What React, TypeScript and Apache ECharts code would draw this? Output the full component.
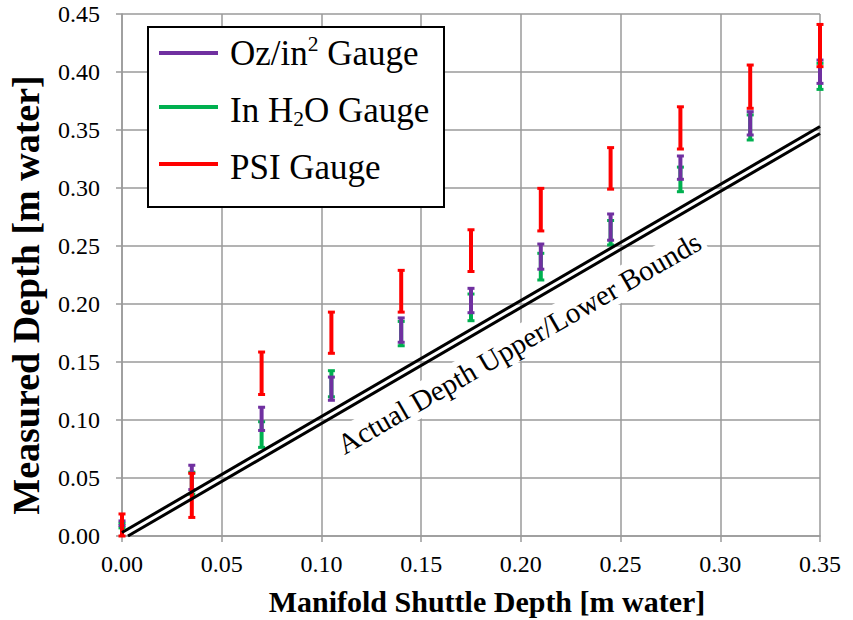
import React, { useEffect, useRef } from 'react';
import * as echarts from 'echarts';

// Manifold shuttle depth (x) for every measurement
const xValues = [0, 0.035, 0.07, 0.105, 0.14, 0.175, 0.21, 0.245, 0.28, 0.315, 0.35];
// Oz/in^2 gauge range
const ozLow = [0.009, 0.040, 0.091, 0.117, 0.167, 0.1925, 0.230, 0.255, 0.3075, 0.3457, 0.3902];
const ozHigh = [0.013, 0.061, 0.111, 0.137, 0.188, 0.2135, 0.2517, 0.2776, 0.3276, 0.3658, 0.4103];
// In H2O gauge range
const h2oLow = [0.007, 0.036, 0.0764, 0.120, 0.164, 0.1856, 0.2207, 0.2509, 0.2968, 0.3414, 0.385];
const h2oHigh = [0.011, 0.055, 0.0985, 0.1425, 0.185, 0.2086, 0.2437, 0.272, 0.318, 0.363, 0.4075];
// PSI gauge range
const psiLow = [0.0, 0.016, 0.122, 0.1575, 0.193, 0.228, 0.263, 0.299, 0.3336, 0.3687, 0.4046];
const psiHigh = [0.019, 0.054, 0.1586, 0.193, 0.229, 0.264, 0.2997, 0.3348, 0.370, 0.406, 0.441];
// Actual depth bounds
const upperX = [0, 0.35];
const upperY = [0.003, 0.353];
const lowerX = [0.003, 0.35];
const lowerY = [0, 0.347];
// Legend entries
const legendNames = ['Oz/in2 Gauge', 'In H2O Gauge', 'PSI Gauge'];
const legendRich = ['{t|Oz/in}{sup|2}{t| Gauge}', '{t|In H}{sub|2}{t|O Gauge}', '{t|PSI Gauge}'];
// Axis titles
const xTitle = 'Manifold Shuttle Depth [m water]';
const yTitle = 'Measured Depth [m water]';

const FONT = 'Liberation Serif';
const PURPLE = '#7030A0';
const GREEN = '#00B050';
const RED = '#FF0000';
const legendColors = [PURPLE, GREEN, RED];

function rangeData(lo: number[], hi: number[]) {
  return xValues.map((x, i) => [x, lo[i], hi[i]]);
}

function renderBar(params: any, api: any) {
  const x = api.value(0);
  const p1 = api.coord([x, api.value(1)]);
  const p2 = api.coord([x, api.value(2)]);
  const color = api.visual('color');
  const cap = 3.5;
  return {
    type: 'group',
    children: [
      { type: 'line', shape: { x1: p1[0], y1: p1[1], x2: p2[0], y2: p2[1] }, style: { stroke: color, lineWidth: 4 } },
      { type: 'line', shape: { x1: p1[0] - cap, y1: p1[1], x2: p1[0] + cap, y2: p1[1] }, style: { stroke: color, lineWidth: 3 } },
      { type: 'line', shape: { x1: p2[0] - cap, y1: p2[1], x2: p2[0] + cap, y2: p2[1] }, style: { stroke: color, lineWidth: 3 } },
    ],
  };
}

export default function App() {
  const ref = useRef<HTMLDivElement>(null);
  useEffect(() => {
    document.body.style.margin = '0';
    if (!ref.current) return;
    const chart = echarts.init(ref.current, null, { renderer: 'svg' });
    const gridColor = '#9a9a9a';
    const legendScale = 35 / 26;
    const rowY = [53, 110, 167];
    const legendChildren: any[] = [
      { type: 'rect', shape: { x: 148, y: 27, width: 296, height: 180 }, style: { fill: '#fff', stroke: '#000', lineWidth: 2 }, z: 10 },
    ];
    legendNames.forEach((name, i) => {
      const ly = [53, 107, 164][i];
      legendChildren.push({
        type: 'line', shape: { x1: 159, y1: ly, x2: 218, y2: ly },
        style: { stroke: legendColors[i], lineWidth: 4 }, z: 11,
      });
      legendChildren.push({
        type: 'text', x: 230, y: rowY[i], scaleX: legendScale, scaleY: legendScale, z: 11,
        style: {
          text: legendRich[i],
          align: 'left',
          verticalAlign: 'middle',
          fill: '#000',
          fontFamily: FONT,
          fontSize: 26,
          rich: {
            t: { fontFamily: FONT, fontSize: 26, fill: '#000', lineHeight: 30 },
            sup: { fontFamily: FONT, fontSize: 16, fill: '#000', lineHeight: 30, verticalAlign: 'top' },
            sub: { fontFamily: FONT, fontSize: 16, fill: '#000', lineHeight: 30, verticalAlign: 'bottom' },
          },
        },
      });
    });
    const option: any = {
      animation: false,
      backgroundColor: '#ffffff',
      grid: { left: 122, right: 33, top: 14, bottom: 84, containLabel: false },
      xAxis: {
        type: 'value',
        min: 0,
        max: 0.35,
        interval: 0.05,
        axisLine: { show: true, lineStyle: { color: gridColor, width: 1.5 } },
        axisTick: { show: true, length: 6, lineStyle: { color: gridColor, width: 1.5 } },
        axisLabel: { fontFamily: FONT, fontSize: 24, color: '#000', margin: 16, formatter: (v: number) => v.toFixed(2) },
        splitLine: { show: true, lineStyle: { color: gridColor, width: 1.5 } },
      },
      yAxis: {
        type: 'value',
        min: 0,
        max: 0.45,
        interval: 0.05,
        axisLine: { show: true, lineStyle: { color: gridColor, width: 1.5 } },
        axisTick: { show: true, length: 6, lineStyle: { color: gridColor, width: 1.5 } },
        axisLabel: { fontFamily: FONT, fontSize: 24, color: '#000', margin: 22, formatter: (v: number) => v.toFixed(2) },
        splitLine: { show: true, lineStyle: { color: gridColor, width: 1.5 } },
      },
      graphic: [
        {
          type: 'text',
          x: 519,
          y: 343,
          rotation: (30 * Math.PI) / 180,
          z: 1,
          style: {
            text: 'Actual Depth Upper/Lower Bounds',
            fontFamily: FONT,
            fontSize: 29,
            fill: '#000',
            align: 'center',
            verticalAlign: 'middle',
            backgroundColor: '#fff',
            padding: [2, 4],
          },
        },
        {
          type: 'text',
          x: 487,
          y: 601,
          scaleX: 30 / 26,
          scaleY: 30 / 26,
          style: {
            text: xTitle,
            fontFamily: FONT,
            fontWeight: 'bold',
            fontSize: 26,
            fill: '#000',
            align: 'center',
            verticalAlign: 'middle',
          },
        },
        {
          type: 'text',
          x: 26,
          y: 295,
          rotation: Math.PI / 2,
          scaleX: 38 / 26,
          scaleY: 38 / 26,
          style: {
            text: yTitle,
            fontFamily: FONT,
            fontWeight: 'bold',
            fontSize: 26,
            fill: '#000',
            align: 'center',
            verticalAlign: 'middle',
          },
        },
        { type: 'group', children: legendChildren },
      ],
      series: [
        {
          name: 'In H2O Gauge',
          type: 'custom',
          renderItem: renderBar,
          itemStyle: { color: GREEN },
          data: rangeData(h2oLow, h2oHigh),
          encode: { x: 0, y: [1, 2] },
          z: 3,
        },
        {
          name: 'Oz/in2 Gauge',
          type: 'custom',
          renderItem: renderBar,
          itemStyle: { color: PURPLE },
          data: rangeData(ozLow, ozHigh),
          encode: { x: 0, y: [1, 2] },
          z: 4,
        },
        {
          name: 'PSI Gauge',
          type: 'custom',
          renderItem: renderBar,
          itemStyle: { color: RED },
          data: rangeData(psiLow, psiHigh),
          encode: { x: 0, y: [1, 2] },
          z: 5,
        },
        {
          name: 'Upper bound',
          type: 'line',
          data: upperX.map((x, i) => [x, upperY[i]]),
          showSymbol: false,
          symbol: 'none',
          lineStyle: { color: '#000', width: 3 },
          z: 6,
        },
        {
          name: 'Lower bound',
          type: 'line',
          data: lowerX.map((x, i) => [x, lowerY[i]]),
          showSymbol: false,
          symbol: 'none',
          lineStyle: { color: '#000', width: 3 },
          z: 6,
        },
      ],
    };
    chart.setOption(option);
    return () => chart.dispose();
  }, []);
  return <div ref={ref} style={{ width: 853, height: 620 }} />;
}
